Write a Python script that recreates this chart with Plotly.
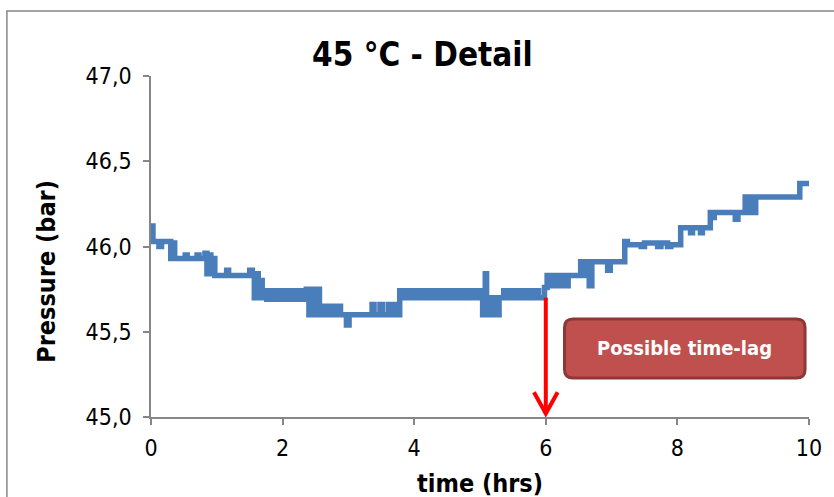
import plotly.graph_objects as go

# ---- data ----
time_hrs = [
    0.00, 0.03, 0.12, 0.16, 0.30, 0.33, 0.36, 0.52, 0.55, 0.70, 0.73, 0.82, 0.85, 0.88, 0.91, 0.94, 0.97,
    1.15, 1.18, 1.50, 1.54, 1.57, 1.60, 1.63, 1.66, 1.69,
    1.72, 1.76, 1.80, 1.84, 1.88, 1.92, 1.96, 2.00, 2.04, 2.08, 2.12, 2.16, 2.20, 2.24, 2.28, 2.32,
    2.36, 2.40, 2.44, 2.48, 2.52, 2.56,
    2.60, 2.64, 2.68, 2.72, 2.76, 2.80, 2.84, 2.88,
    2.97, 3.01, 3.36, 3.39, 3.48, 3.52, 3.61, 3.65, 3.71, 3.75,
    3.78, 3.82, 3.86, 3.90, 3.94, 3.98, 4.02, 4.06, 4.10, 4.14, 4.18,
    4.22, 4.30, 4.33, 4.40, 4.43, 4.50, 4.53, 4.60, 4.63, 4.70, 4.73, 4.80, 4.83, 4.90, 4.93, 5.00,
    5.04, 5.08, 5.10, 5.13, 5.17, 5.21, 5.25, 5.29,
    5.36, 5.39, 5.46, 5.49, 5.56, 5.59, 5.66, 5.69, 5.76, 5.79, 5.86, 5.89,
    5.98, 6.02, 6.10, 6.13, 6.20, 6.23, 6.30, 6.34, 6.53, 6.55, 6.58, 6.66, 6.70, 6.94, 6.98, 7.20, 7.24,
    7.45, 7.50, 7.70, 7.75, 7.85, 7.90,
    8.05, 8.20, 8.23, 8.35, 8.38, 8.50, 8.53, 8.56, 8.88, 8.92, 9.03, 9.07, 9.10, 9.15, 9.19, 9.86, 10.00,
]
pressure_bar = [
    46.12, 46.03, 46.00, 46.03, 45.93, 46.02, 45.93, 45.95, 45.93, 45.95, 45.93, 45.96, 45.84, 45.95, 45.84, 45.93, 45.83,
    45.86, 45.83, 45.86, 45.83, 45.70, 45.84, 45.70, 45.80, 45.70,
    45.74, 45.69, 45.74, 45.69, 45.74, 45.69, 45.74, 45.69, 45.74, 45.69, 45.74, 45.69, 45.74, 45.69, 45.74, 45.69,
    45.75, 45.60, 45.75, 45.60, 45.75, 45.60,
    45.65, 45.60, 45.65, 45.60, 45.65, 45.60, 45.65, 45.60,
    45.54, 45.60, 45.66, 45.60, 45.66, 45.60, 45.66, 45.60, 45.66, 45.60,
    45.74, 45.70, 45.74, 45.70, 45.74, 45.70, 45.74, 45.70, 45.74, 45.70, 45.74,
    45.70, 45.74, 45.70, 45.74, 45.70, 45.74, 45.70, 45.74, 45.70, 45.74, 45.70, 45.74, 45.70, 45.74, 45.70, 45.74,
    45.60, 45.84, 45.60, 45.70, 45.60, 45.70, 45.60, 45.70,
    45.74, 45.70, 45.74, 45.70, 45.74, 45.70, 45.74, 45.70, 45.74, 45.70, 45.74, 45.70,
    45.76, 45.83, 45.77, 45.83, 45.77, 45.83, 45.77, 45.83, 45.91, 45.83, 45.91, 45.77, 45.91, 45.86, 45.91, 46.03, 46.01,
    46.00, 46.02, 46.00, 46.02, 46.00, 46.01,
    46.11, 46.08, 46.11, 46.08, 46.11, 46.20, 46.17, 46.20, 46.16, 46.20, 46.29, 46.20, 46.29, 46.20, 46.29, 46.37, 46.37,
]

x_ticks = [0, 2, 4, 6, 8, 10]
y_ticks = [45.0, 45.5, 46.0, 46.5, 47.0]

chart_title = "45 °C - Detail"
x_title = "time (hrs)"
y_title = "Pressure (bar)"
note_text = "Possible time-lag"
lag_time = 6.0
lag_top = 45.70

FONT = "DejaVu Sans Condensed, DejaVu Sans, sans-serif"
AXIS_GRAY = "#868686"

fig = go.Figure()
fig.add_trace(go.Scatter(
    x=time_hrs, y=pressure_bar, mode="lines",
    line=dict(color="#4a7ebb", width=5.5, shape="hv"),
    showlegend=False, hoverinfo="skip",
))

fig.update_layout(
    width=834, height=497,
    margin=dict(l=151, r=21, t=76, b=80, pad=0),
    paper_bgcolor="white", plot_bgcolor="white",
    separators=", ",
    font=dict(family=FONT, color="black", size=23),
    showlegend=False,
)
fig.update_xaxes(
    range=[0, 10], tickvals=x_ticks, showgrid=False, zeroline=False,
    showline=True, linecolor=AXIS_GRAY, linewidth=1.5,
    ticks="outside", ticklen=6, tickwidth=1.5, tickcolor=AXIS_GRAY,
    tickfont=dict(family=FONT, size=23, color="black"),
    ticklabelstandoff=4,
)
fig.update_yaxes(
    range=[45, 47], tickvals=y_ticks, tickformat=".1f", showgrid=False, zeroline=False,
    showline=True, linecolor=AXIS_GRAY, linewidth=1.5,
    ticks="outside", ticklen=6, tickwidth=1.5, tickcolor=AXIS_GRAY,
    tickfont=dict(family=FONT, size=23, color="black"),
    ticklabelstandoff=7,
)

# outer chart border (only left and top edges fall inside the picture)
fig.add_shape(type="path", xref="paper", yref="paper",
              path="M -0.219,-1.0 L -0.219,1.1906 L 2.0,1.1906",
              line=dict(color=AXIS_GRAY, width=1.5), layer="above")

# titles
fig.add_annotation(text="<b>" + chart_title + "</b>", xref="paper", yref="paper",
                   x=0.4124, y=1.0645, xanchor="center", yanchor="middle", showarrow=False,
                   font=dict(family=FONT, size=33, color="black"))
fig.add_annotation(text="<b>" + x_title + "</b>", xref="paper", yref="paper",
                   x=0.5, y=-0.196, xanchor="center", yanchor="middle", showarrow=False,
                   font=dict(family=FONT, size=25, color="black"))
fig.add_annotation(text="<b>" + y_title + "</b>", xref="paper", yref="paper",
                   x=-0.160, y=0.428, xanchor="center", yanchor="middle", showarrow=False,
                   textangle=-90, font=dict(family=FONT, size=25, color="black"))

# red arrow at the lag time
fig.add_shape(type="line", xref="x", yref="y", x0=lag_time, x1=lag_time, y0=lag_top, y1=45.02,
              line=dict(color="#ff0000", width=4), layer="above")
fig.add_shape(type="path", xref="x", yref="y",
              path=f"M {lag_time-0.18},45.145 L {lag_time},45.02 L {lag_time+0.18},45.145",
              line=dict(color="#ff0000", width=4), layer="above")

# rounded callout box
x0, x1, y0, y1 = 6.284, 9.94, 45.229, 45.575
rx, ry = 0.13, 0.05
box = (f"M {x0+rx},{y1} L {x1-rx},{y1} Q {x1},{y1} {x1},{y1-ry} "
       f"L {x1},{y0+ry} Q {x1},{y0} {x1-rx},{y0} L {x0+rx},{y0} "
       f"Q {x0},{y0} {x0},{y0+ry} L {x0},{y1-ry} Q {x0},{y1} {x0+rx},{y1} Z")
fig.add_shape(type="path", xref="x", yref="y", path=box,
              fillcolor="#c0504d", line=dict(color="#8c3836", width=3), layer="above")
fig.add_annotation(text="<b>" + note_text + "</b>", xref="x", yref="y",
                   x=(x0 + x1) / 2, y=(y0 + y1) / 2, showarrow=False,
                   font=dict(family=FONT, size=20, color="white"))

fig.write_html("out.html")
